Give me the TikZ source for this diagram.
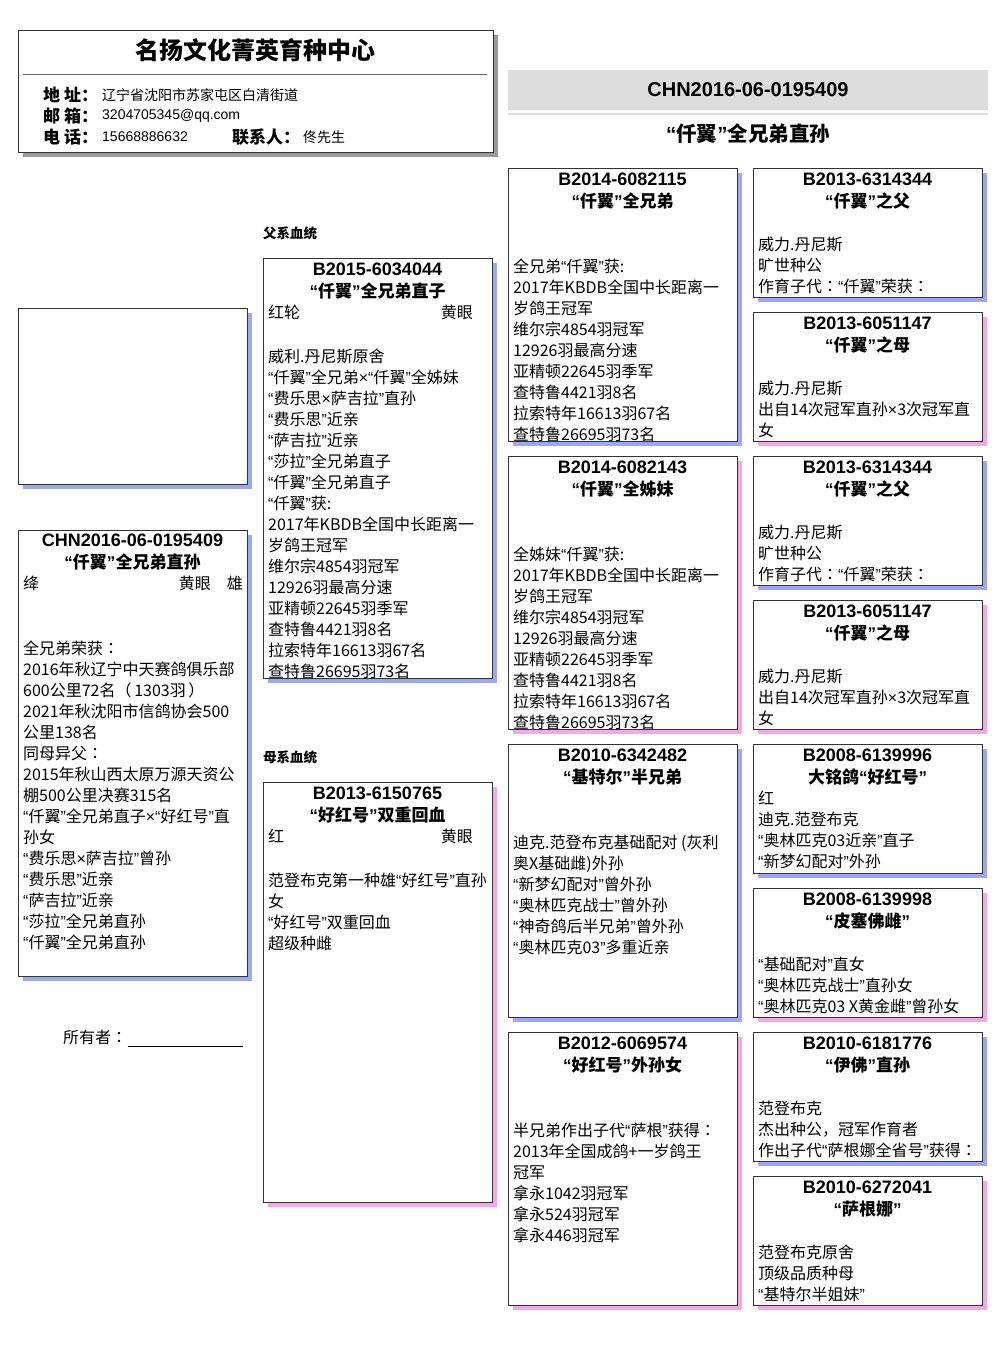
\documentclass[tikz,border=0pt]{standalone}
\usepackage{fontspec}
\usepackage{newunicodechar}
\setmainfont{Noto Sans CJK SC}
\newfontfamily\latinfont{Liberation Sans}
\newfontfamily\tcfont{Noto Sans CJK TC}
\newunicodechar{“}{{\latinfont\char"201C}}
\newunicodechar{”}{{\latinfont\char"201D}}
\newunicodechar{×}{{\latinfont\char"00D7}}
\newunicodechar{：}{{\tcfont\char"FF1A}}
\newunicodechar{（}{{\tcfont\char"FF08}}
\newunicodechar{）}{{\tcfont\char"FF09}}
\usetikzlibrary{positioning,shadows}
\definecolor{sireblue}{RGB}{155,168,245}
\definecolor{dampink}{RGB}{245,168,232}
\definecolor{cardline}{RGB}{51,51,51}
\definecolor{bandgray}{RGB}{221,221,221}

\begin{document}
\begin{tikzpicture}
    [x=1pt, y=-1pt,
    card/.style={draw=cardline, fill=white, line width=0.9pt, anchor=north west,
      minimum width=229pt, minimum height=#1, inner sep=0pt, outer sep=0pt},
    siresh/.style={drop shadow={shadow xshift=5pt, shadow yshift=-5pt, fill=sireblue, opacity=1}},
    damsh/.style={drop shadow={shadow xshift=5pt, shadow yshift=-5pt, fill=dampink, opacity=1}},
    idline/.style={inner sep=0pt, anchor=north, align=center, font=\bfseries\fontsize{17}{22}\selectfont},
    body/.style={inner sep=0pt, anchor=north west, align=left, font=\fontsize{16}{21}\selectfont},
    side/.style={inner sep=0pt, font=\fontsize{16}{21}\selectfont},
    label/.style={inner sep=0pt, anchor=west, font=\bfseries\fontsize{17}{21}\selectfont},
    value/.style={inner sep=0pt, anchor=west, font=\fontsize{14}{21}\selectfont},
    lineage/.style={inner sep=0pt, anchor=west, font=\bfseries\fontsize{13.5}{15}\selectfont}]
    \useasboundingbox[fill=white] (0,0) rectangle (1006,1366);

        %% header
    \node[card=122pt, minimum width=475pt, drop shadow={shadow xshift=5pt, shadow yshift=-5pt, fill=black!40, opacity=1}] (head) at (18,30) {};
    \node[inner sep=0pt, font=\bfseries\fontsize{24}{26}\selectfont] (club) at (255,50) {名扬文化菁英育种中心};
    \draw[black!60, line width=0.9pt] (23,74) -- (487,74);
    \node[label] (addr) at (43,95) {地 址\char"FF1A};
    \node[value] at (102,95) {辽宁省沈阳市苏家屯区白清街道};
    \node[label] (mail) at (43,116) {邮 箱\char"FF1A};
    \node[value] at (102,116) {\latinfont 3204705345@qq.com};
    \node[label] (tel) at (43,137) {电 话\char"FF1A};
    \node[value] at (102,137) {\latinfont 15668886632};
    \node[label] (who) at (232,137) {联系人\char"FF1A};
    \node[value] at (303,137) {佟先生};

        %% ring number band
    \fill[bandgray] (508,70) rectangle (988,110);
    \draw[bandgray, line width=2pt] (508,114) -- (988,114);
    \node[inner sep=0pt, font=\latinfont\bfseries\fontsize{20}{22}\selectfont] (ring) at (748,90) {CHN2016-06-0195409};
    \node[inner sep=0pt, font=\bfseries\fontsize{20.5}{22}\selectfont] (name) at (748,134) {“仟翼”全兄弟直孙};

        %% photo and bird
    \node[card=176pt, siresh] (photo) at (18,308) {};
    \node[card=446pt, siresh] (bird) at (18,530) {};
    \node[idline, below=4pt of bird.north] {{\latinfont\fontsize{18}{22}\selectfont CHN2016-06-0195409}\\“仟翼”全兄弟直孙};
    \node[side, anchor=west] at ([xshift=5pt, yshift=-53pt]bird.north west) {绛};
    \node[side, anchor=east] at ([xshift=-4pt, yshift=-53pt]bird.north east) {黄眼\hspace{16pt}雄};
    \node[body, below right=111pt and 5pt of bird.north west] {全兄弟荣获：\\2016年秋辽宁中天赛鸽俱乐部\\600公里72名（\,1303羽\,）\\2021年秋沈阳市信鸽协会500\\公里138名\\同母异父：\\2015年秋山西太原万源天资公\\棚500公里决赛315名\\“仟翼”全兄弟直子×“好红号”直\\孙女\\“费乐思×萨吉拉”曾孙\\“费乐思”近亲\\“萨吉拉”近亲\\“莎拉”全兄弟直孙\\“仟翼”全兄弟直孙};
    \node[side, anchor=west] (owner) at (63,1037) {所有者：};
    \draw[line width=0.9pt] (128,1046) -- (243,1046);

        %% parents
    \node[lineage] (sireline) at (263,233) {父系血统};
    \node[card=420pt, siresh] (sire) at (263,258) {};
    \node[idline, below=5pt of sire.north] {{\latinfont\fontsize{18}{22}\selectfont B2015-6034044}\\“仟翼”全兄弟直子};
    \node[side, anchor=west] at ([xshift=5pt, yshift=-54pt]sire.north west) {红轮};
    \node[side, anchor=east] at ([xshift=-19pt, yshift=-54pt]sire.north east) {黄眼};
    \node[body, below right=91pt and 5pt of sire.north west] {威利.丹尼斯原舍\\“仟翼”全兄弟×“仟翼”全姊妹\\“费乐思×萨吉拉”直孙\\“费乐思”近亲\\“萨吉拉”近亲\\“莎拉”全兄弟直子\\“仟翼”全兄弟直子\\“仟翼”获:\\2017年KBDB全国中长距离一\\岁鸽王冠军\\维尔宗4854羽冠军\\12926羽最高分速\\亚精顿22645羽季军\\查特鲁4421羽8名\\拉索特年16613羽67名\\查特鲁26695羽73名};

    \node[lineage] (damline) at (263,757) {母系血统};
    \node[card=420pt, damsh] (dam) at (263,782) {};
    \node[idline, below=5pt of dam.north] {{\latinfont\fontsize{18}{22}\selectfont B2013-6150765}\\“好红号”双重回血};
    \node[side, anchor=west] at ([xshift=5pt, yshift=-54pt]dam.north west) {红};
    \node[side, anchor=east] at ([xshift=-19pt, yshift=-54pt]dam.north east) {黄眼};
    \node[body, below right=91pt and 5pt of dam.north west] {范登布克第一种雄“好红号”直孙\\女\\“好红号”双重回血\\超级种雌};

        %% grandparents
    \node[card=273pt, siresh] (ss) at (508,168) {};
    \node[idline, below=5pt of ss.north] {{\latinfont\fontsize{18}{22}\selectfont B2014-6082115}\\“仟翼”全兄弟};
    \node[body, below right=91pt and 5pt of ss.north west] {全兄弟“仟翼”获:\\2017年KBDB全国中长距离一\\岁鸽王冠军\\维尔宗4854羽冠军\\12926羽最高分速\\亚精顿22645羽季军\\查特鲁4421羽8名\\拉索特年16613羽67名\\查特鲁26695羽73名};

    \node[card=273pt, damsh] (sd) at (508,456) {};
    \node[idline, below=5pt of sd.north] {{\latinfont\fontsize{18}{22}\selectfont B2014-6082143}\\“仟翼”全姊妹};
    \node[body, below right=91pt and 5pt of sd.north west] {全姊妹“仟翼”获:\\2017年KBDB全国中长距离一\\岁鸽王冠军\\维尔宗4854羽冠军\\12926羽最高分速\\亚精顿22645羽季军\\查特鲁4421羽8名\\拉索特年16613羽67名\\查特鲁26695羽73名};

    \node[card=273pt, siresh] (ds) at (508,744) {};
    \node[idline, below=5pt of ds.north] {{\latinfont\fontsize{18}{22}\selectfont B2010-6342482}\\“基特尔”半兄弟};
    \node[body, below right=91pt and 5pt of ds.north west] {迪克.范登布克基础配对 (灰利\\奥X基础雌)外孙\\“新梦幻配对”曾外孙\\“奥林匹克战士”曾外孙\\“神奇鸽后半兄弟”曾外孙\\“奥林匹克03”多重近亲};

    \node[card=273pt, damsh] (dd) at (508,1032) {};
    \node[idline, below=5pt of dd.north] {{\latinfont\fontsize{18}{22}\selectfont B2012-6069574}\\“好红号”外孙女};
    \node[body, below right=91pt and 5pt of dd.north west] {半兄弟作出子代“萨根”获得：\\2013年全国成鸽+一岁鸽王\\冠军\\拿永1042羽冠军\\拿永524羽冠军\\拿永446羽冠军};

        %% great-grandparents
    \node[card=129pt, siresh] (sss) at (753,168) {};
    \node[idline, below=5pt of sss.north] {{\latinfont\fontsize{18}{22}\selectfont B2013-6314344}\\“仟翼”之父};
    \node[body, below right=69pt and 5pt of sss.north west] {威力.丹尼斯\\旷世种公\\作育子代：“仟翼”荣获：};

    \node[card=129pt, damsh] (ssd) at (753,312) {};
    \node[idline, below=5pt of ssd.north] {{\latinfont\fontsize{18}{22}\selectfont B2013-6051147}\\“仟翼”之母};
    \node[body, below right=69pt and 5pt of ssd.north west] {威力.丹尼斯\\出自14次冠军直孙×3次冠军直\\女};

    \node[card=129pt, siresh] (sds) at (753,456) {};
    \node[idline, below=5pt of sds.north] {{\latinfont\fontsize{18}{22}\selectfont B2013-6314344}\\“仟翼”之父};
    \node[body, below right=69pt and 5pt of sds.north west] {威力.丹尼斯\\旷世种公\\作育子代：“仟翼”荣获：};

    \node[card=129pt, damsh] (sdd) at (753,600) {};
    \node[idline, below=5pt of sdd.north] {{\latinfont\fontsize{18}{22}\selectfont B2013-6051147}\\“仟翼”之母};
    \node[body, below right=69pt and 5pt of sdd.north west] {威力.丹尼斯\\出自14次冠军直孙×3次冠军直\\女};

    \node[card=129pt, siresh] (dss) at (753,744) {};
    \node[idline, below=5pt of dss.north] {{\latinfont\fontsize{18}{22}\selectfont B2008-6139996}\\大铭鸽“好红号”};
    \node[body, below right=47pt and 5pt of dss.north west] {红\\迪克.范登布克\\“奥林匹克03近亲”直子\\“新梦幻配对”外孙};

    \node[card=129pt, damsh] (dsd) at (753,888) {};
    \node[idline, below=5pt of dsd.north] {{\latinfont\fontsize{18}{22}\selectfont B2008-6139998}\\“皮塞佛雌”};
    \node[body, below right=69pt and 5pt of dsd.north west] {“基础配对”直女\\“奥林匹克战士”直孙女\\“奥林匹克03 X黄金雌”曾孙女};

    \node[card=129pt, siresh] (dds) at (753,1032) {};
    \node[idline, below=5pt of dds.north] {{\latinfont\fontsize{18}{22}\selectfont B2010-6181776}\\“伊佛”直孙};
    \node[body, below right=69pt and 5pt of dds.north west] {范登布克\\杰出种公，冠军作育者\\作出子代“萨根娜全省号”获得：};

    \node[card=129pt, damsh] (ddd) at (753,1176) {};
    \node[idline, below=5pt of ddd.north] {{\latinfont\fontsize{18}{22}\selectfont B2010-6272041}\\“萨根娜”};
    \node[body, below right=69pt and 5pt of ddd.north west] {范登布克原舍\\顶级品质种母\\“基特尔半姐妹”};
    \end{tikzpicture}
\end{document}
